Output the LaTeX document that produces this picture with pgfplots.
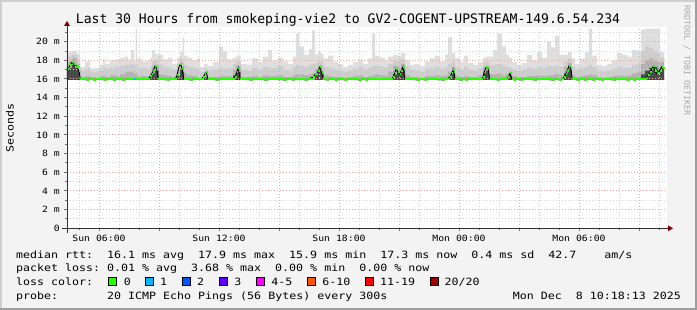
\documentclass[border=0pt]{standalone}
\usepackage{pgfplots}
\pgfplotsset{compat=1.18}
\usepackage{pgfplotstable}
\usepackage{fontspec}
\setmainfont{DejaVu Sans Mono}
\newfontfamily\lgfont[FakeStretch=1.163]{DejaVu Sans Mono}
\newfontfamily\axfont[FakeStretch=1.14]{DejaVu Sans Mono}
\newfontfamily\ttlfont{DejaVu Sans Mono}
\definecolor{bg}{HTML}{F3F3F3}
\definecolor{shadea}{HTML}{CFCFCF}
\definecolor{shadeb}{HTML}{9E9E9E}
\definecolor{mgrid}{HTML}{F0A4A4}
\definecolor{mingrid}{HTML}{D4D4D4}
\definecolor{arrowred}{HTML}{7F0000}
\definecolor{axiscol}{HTML}{303030}
\definecolor{smokeL}{HTML}{DEDEDE}
\definecolor{smokeM}{HTML}{CDCDCD}
\definecolor{smokeD}{HTML}{B2B2B2}
\definecolor{smokeK}{HTML}{4A4A4A}
\definecolor{wmark}{HTML}{A8A8A8}
\definecolor{loss0}{HTML}{26FF00}
\definecolor{loss1}{HTML}{00B8FF}
\definecolor{loss2}{HTML}{0059FF}
\definecolor{loss3}{HTML}{5E00FF}
\definecolor{loss4}{HTML}{FF00FF}
\definecolor{loss6}{HTML}{FF5500}
\definecolor{loss11}{HTML}{FF0000}
\definecolor{loss20}{HTML}{A10000}

% smoke: hours since Sun 00:00, top of each grey band (ms)
\pgfplotstableread{
h L M D K
4.40 15.9 15.9 15.9 15.9
4.40 18.9 18.4 17.9 17.2
4.65 19.0 18.6 18.2 17.5
4.90 18.7 18.1 17.6 17.0
5.05 17.3 16.9 16.2 15.9
5.30 17.9 17.0 16.3 15.9
5.45 17.9 17.2 16.3 15.9
5.55 17.1 16.8 16.2 15.9
5.80 17.2 16.7 16.1 15.9
6.05 17.5 17.0 16.3 15.9
6.20 18.1 17.3 16.4 15.9
6.30 17.6 17.1 16.2 15.9
6.55 18.0 17.2 16.4 15.9
6.80 18.1 17.3 16.3 15.9
7.05 18.3 17.4 16.5 15.9
7.30 18.4 17.5 16.7 15.9
7.45 18.1 17.5 16.8 15.9
7.60 19.1 17.6 16.7 15.9
7.75 18.0 17.4 16.5 15.9
7.825 21.4 17.6 16.6 15.9
7.90 18.2 17.2 16.3 15.9
8.15 17.9 17.2 16.3 15.9
8.40 18.0 17.0 16.2 15.9
8.55 18.3 17.4 16.8 16.2
8.65 19.1 17.9 17.3 16.6
8.80 18.7 18.0 17.5 16.9
8.975 18.6 17.5 16.5 15.9
9.20 18.1 17.3 16.4 15.9
9.45 18.3 17.2 16.3 15.9
9.65 17.6 17.0 16.2 15.9
9.90 18.3 17.6 17.0 16.3
10.05 18.9 18.2 17.7 17.0
10.175 20.4 18.0 17.4 16.8
10.25 18.5 17.5 16.6 15.9
10.40 18.3 17.3 16.4 15.9
10.65 18.0 17.2 16.3 15.9
10.90 18.2 17.0 16.2 15.9
11.05 17.3 16.8 16.1 15.9
11.25 17.6 17.1 16.7 16.2
11.425 17.4 16.9 16.2 15.9
11.70 17.8 17.0 16.2 15.9
12.00 19.5 17.2 16.3 15.9
12.20 19.0 17.1 16.3 15.9
12.40 18.1 17.2 16.3 15.9
12.70 18.3 17.6 17.0 16.4
12.85 18.5 17.9 17.4 16.8
13.075 17.6 17.0 16.2 15.9
13.40 17.5 16.9 16.2 15.9
13.65 18.2 17.2 16.3 15.9
13.95 17.8 17.0 16.2 15.9
14.20 18.4 17.3 16.4 15.9
14.45 19.1 17.2 16.3 15.9
14.65 18.0 17.2 16.3 15.9
14.95 18.3 17.4 16.4 15.9
15.20 17.9 17.0 16.2 15.9
15.45 17.6 16.9 16.2 15.9
15.70 18.4 17.3 16.4 15.9
15.85 20.9 17.5 16.5 15.9
16.00 19.5 17.4 16.5 15.9
16.25 18.6 17.3 16.4 15.9
16.50 19.2 17.5 16.5 15.9
16.65 21.2 17.6 16.6 15.9
16.80 18.6 17.7 17.1 16.4
16.95 18.9 18.0 17.5 16.9
17.10 18.7 17.8 17.2 16.6
17.225 18.2 17.3 16.4 15.9
17.45 18.5 17.2 16.3 15.9
17.70 17.9 17.0 16.2 15.9
17.95 17.6 16.9 16.2 15.9
18.20 17.3 16.8 16.1 15.9
18.45 17.5 16.9 16.2 15.9
18.70 17.8 17.1 16.3 15.9
18.95 18.1 17.3 16.4 15.9
19.20 17.6 17.0 16.2 15.9
19.45 18.2 17.2 16.3 15.9
19.65 20.9 17.4 16.4 15.9
19.80 18.5 17.4 16.5 15.9
20.05 18.3 17.3 16.4 15.9
20.30 18.0 17.2 16.3 15.9
20.45 18.4 17.6 16.8 15.9
20.70 18.6 18.0 17.4 16.5
20.90 18.5 17.9 17.3 16.8
21.10 18.8 18.1 17.6 17.0
21.30 18.0 17.3 16.4 15.9
21.55 17.5 17.0 16.2 15.9
21.80 17.6 16.9 16.2 15.9
22.05 17.4 16.8 16.1 15.9
22.30 17.9 17.1 16.3 15.9
22.55 18.2 17.2 16.3 15.9
22.80 18.5 17.3 16.4 15.9
23.05 17.9 17.1 16.3 15.9
23.30 18.6 17.3 16.4 15.9
23.45 20.5 17.6 16.8 16.2
23.65 18.8 17.8 17.3 16.6
23.80 18.2 17.2 16.3 15.9
24.05 17.8 17.0 16.2 15.9
24.25 18.5 17.3 16.3 15.9
24.45 17.7 17.0 16.2 15.9
24.70 17.5 16.9 16.2 15.9
24.95 17.8 17.2 16.4 15.9
25.20 18.3 17.8 17.3 16.6
25.35 18.4 17.9 17.4 16.9
25.50 18.4 17.4 16.5 15.9
25.70 19.1 17.5 16.5 15.9
25.90 20.9 17.6 16.6 15.9
26.15 19.5 17.4 16.4 15.9
26.35 18.6 17.3 16.6 16.0
26.50 18.3 17.2 16.8 16.3
26.65 17.8 17.0 16.3 15.9
26.90 17.5 16.9 16.2 15.9
27.15 17.7 17.0 16.2 15.9
27.40 18.6 17.2 16.3 15.9
27.65 18.0 17.1 16.3 15.9
27.90 18.9 17.3 16.4 15.9
28.15 18.3 17.2 16.3 15.9
28.40 20.0 17.4 16.4 15.9
28.60 19.4 17.3 16.4 15.9
28.80 20.6 17.4 16.5 15.9
29.00 18.6 17.3 16.4 15.9
29.25 18.6 17.9 17.3 16.6
29.45 18.9 18.2 17.7 17.1
29.625 18.2 17.3 16.4 15.9
29.80 17.6 17.0 16.2 15.9
30.05 18.2 17.2 16.3 15.9
30.30 18.9 17.3 16.4 15.9
30.50 21.4 17.5 16.5 15.9
30.65 18.5 17.3 16.4 15.9
30.90 17.5 16.9 16.2 15.9
31.15 17.4 16.8 16.1 15.9
31.40 17.6 16.9 16.2 15.9
31.65 18.0 17.1 16.3 15.9
31.90 18.8 17.3 16.4 15.9
32.15 18.6 17.2 16.3 15.9
32.40 18.4 17.2 16.4 15.9
32.65 19.1 17.5 16.6 15.9
32.90 19.0 17.6 16.7 15.9
33.10 21.3 19.0 17.6 16.5
33.30 21.4 19.5 18.0 16.9
33.50 21.4 19.3 18.2 17.2
33.70 21.4 19.0 18.0 17.3
33.90 21.4 18.8 17.8 17.1
34.05 18.9 18.3 17.8 17.2
34.25 18.9 18.3 17.8 17.2
34.25 15.9 15.9 15.9 15.9
}\smoke

% median rtt (ms)
\pgfplotstableread{
h rtt
4.40 17.1
4.485 17.2
4.565 17.5
4.65 17.8
4.735 17.6
4.815 17.3
4.90 17.3
4.985 16.9
5.065 16.0
5.40 15.9
5.50 16.0
5.75 15.9
5.85 16.0
6.30 15.9
6.40 16.0
6.75 15.9
6.85 16.0
7.20 15.9
7.30 16.0
8.465 16.0
8.55 16.3
8.635 16.5
8.715 16.9
8.80 17.4
8.885 17.1
8.965 16.0
9.45 15.9
9.55 16.0
9.815 16.0
9.90 16.4
9.985 17.2
10.065 17.6
10.15 17.15
10.235 16.0
10.60 15.9
10.70 16.0
11.115 16.0
11.20 16.2
11.285 16.5
11.365 16.7
11.45 16.0
11.90 15.9
12.00 16.0
12.715 16.0
12.80 16.2
12.885 16.7
12.965 17.2
13.05 16.0
13.60 15.9
13.70 16.0
14.35 15.9
14.45 16.0
15.30 15.9
15.40 16.0
15.70 15.9
15.80 16.0
16.35 15.9
16.45 16.0
16.715 16.2
16.80 16.5
16.885 16.5
16.965 16.9
17.05 17.3
17.135 16.6
17.215 16.0
17.40 15.9
17.50 16.0
17.85 15.9
17.95 16.0
18.30 15.9
18.40 16.0
19.05 15.9
19.15 16.0
19.35 15.9
19.45 16.0
20.615 16.0
20.70 16.2
20.785 16.6
20.865 17.1
20.95 16.7
21.035 16.5
21.115 16.9
21.20 17.3
21.285 16.0
21.95 15.9
22.05 16.0
22.30 15.9
22.40 16.0
23.20 15.9
23.30 16.0
23.465 16.0
23.55 16.2
23.635 16.6
23.715 17.0
23.80 16.0
24.10 15.9
24.20 16.0
24.35 15.9
24.45 16.0
25.115 16.0
25.20 16.2
25.285 16.9
25.365 17.3
25.45 17.2
25.535 16.0
25.95 15.9
26.05 16.0
26.38 16.0
26.465 16.2
26.55 16.6
26.635 16.0
26.75 15.9
26.85 16.0
27.10 15.9
27.20 16.0
27.80 15.9
27.90 16.0
28.70 15.9
28.80 16.0
29.05 15.9
29.15 16.0
29.25 16.2
29.335 16.5
29.415 16.9
29.50 17.4
29.585 17.2
29.665 16.0
29.90 15.9
30.00 16.0
30.30 15.9
30.40 16.0
30.70 15.9
30.80 16.0
31.15 15.9
31.25 16.0
31.75 15.9
31.85 16.0
32.45 15.9
32.55 16.0
32.75 15.9
32.85 16.0
33.30 16.0
33.385 16.1
33.465 16.4
33.55 16.7
33.635 17.1
33.715 17.35
33.80 16.9
33.885 16.5
33.965 16.6
34.05 16.9
34.135 17.3
34.215 17.2
34.30 17.2
}\median

\begin{document}
\begin{tikzpicture}
\useasboundingbox (0,0) rectangle (697pt,-310pt);
\fill[bg] (0,0) rectangle (697pt,-310pt);
\fill[shadea] (0,0) rectangle (697pt,-2pt);
\fill[shadea] (0,0) rectangle (2pt,-310pt);
\fill[shadeb] (0,-308pt) rectangle (697pt,-310pt);
\fill[shadeb] (695pt,0) rectangle (697pt,-310pt);

\begin{axis}[
  at={(67pt,-228.3pt)}, anchor=south west,
  width=600pt, height=201pt, scale only axis,
  xmin=4.4, xmax=34.4, ymin=0, ymax=21.54,
  axis background/.style={fill=white},
  axis line style={draw=none},
  axis on top,
  xtick={6,9,...,33},
  xticklabels={Sun 06:00,,Sun 12:00,,Sun 18:00,,Mon 00:00,,Mon 06:00,},
  minor xtick={5,7,8,10,11,13,14,16,17,19,20,22,23,25,26,28,29,31,32,34},
  ytick={0,2,...,20},
  yticklabels={0,2 m,4 m,6 m,8 m,10 m,12 m,14 m,16 m,18 m,20 m},
  minor ytick={1,3,...,21},
  grid=both,
  major grid style={mgrid, line width=1pt, dash pattern=on 1pt off 2pt},
  minor grid style={mingrid, line width=1pt, dash pattern=on 1pt off 2pt},
  tick pos=left, tick align=outside,
  major tick length=3pt, minor tick length=2pt,
  tick style={black!55, line width=1pt},
  ticklabel style={inner sep=0pt, font=\axfont\fontsize{8.6}{10}\selectfont},
  yticklabel style={anchor=east, xshift=-4pt},
  xticklabel style={anchor=north, yshift=-3.5pt},
]
\addplot[draw=none, fill=smokeL, const plot] table[x=h, y=L] {\smoke};
\addplot[draw=none, fill=smokeM, const plot] table[x=h, y=M] {\smoke};
\addplot[draw=none, fill=smokeD, const plot] table[x=h, y=D] {\smoke};
\addplot[draw=none, fill=smokeK, const plot] table[x=h, y=K] {\smoke};
\end{axis}

\begin{axis}[
  at={(67pt,-228.3pt)}, anchor=south west,
  width=600pt, height=201pt, scale only axis,
  xmin=4.4, xmax=34.4, ymin=0, ymax=21.54,
  hide axis,
]
\addplot[black, line width=0.9pt] table[x=h, y=rtt] {\median};
\addplot[loss0, line width=2pt, jump mark left] table[x=h, y=rtt] {\median};
\addplot[loss1, line width=2pt] coordinates {(7.75,16.0) (7.85,16.0)};
\end{axis}

\begin{scope}[x=1pt, y=-1pt]
% axes with arrows
\draw[axiscol, line width=1pt] (62,228.3) -- (668,228.3);
\fill[arrowred] (668,225.3) -- (673,228.3) -- (668,231.3) -- cycle;
\draw[axiscol, line width=1pt] (67,233) -- (67,26);
\fill[arrowred] (64,26) -- (67,21) -- (70,26) -- cycle;

% title
\node[anchor=base, inner sep=0pt, font=\ttlfont\fontsize{13.1}{15}\selectfont] at (348,24)
  {Last 30 Hours from smokeping-vie2 to GV2-COGENT-UPSTREAM-149.6.54.234};
% y label
\node[rotate=90, inner sep=0pt, font=\lgfont\fontsize{10}{12}\selectfont] at (10,127.7) {Seconds};
% watermark
\node[rotate=-90, anchor=west, inner sep=0pt, text=wmark, font=\ttlfont\fontsize{8.3}{10}\selectfont] at (687,5) {RRDTOOL / TOBI OETIKER};

% legend
\begin{scope}[every node/.style={anchor=base west, inner sep=0pt, font=\lgfont\fontsize{10}{12}\selectfont}]
\node at (16,258.3) {median rtt:~~16.1 ms avg~~17.9 ms max~~15.9 ms min~~17.3 ms now~~0.4 ms sd~~42.7~~~~am/s};
\node at (16,271.7) {packet loss:~0.01 \% avg~~3.68 \% max~~0.00 \% min~~0.00 \% now};
\node at (16,285.7) {loss color:};
\node at (16,299.3) {probe:~~~~~~~20 ICMP Echo Pings (56 Bytes) every 300s};
\node[anchor=base east] at (681,299.3) {Mon Dec~~8 10:18:13 2025};
\node at (123.6,285.7) {0};
\node at (160,285.7) {1};
\node at (196.9,285.7) {2};
\node at (234.2,285.7) {3};
\node at (271.1,285.7) {4-5};
\node at (322.2,285.7) {6-10};
\node at (380,285.7) {11-19};
\node at (444.4,285.7) {20/20};
\end{scope}
\draw[black, line width=0.8pt, fill=loss0] (108,277.7) rectangle (116,285.7);
\draw[black, line width=0.8pt, fill=loss1] (145.3,277.7) rectangle (153.3,285.7);
\draw[black, line width=0.8pt, fill=loss2] (182.2,277.7) rectangle (190.2,285.7);
\draw[black, line width=0.8pt, fill=loss3] (219.6,277.7) rectangle (227.6,285.7);
\draw[black, line width=0.8pt, fill=loss4] (256.4,277.7) rectangle (264.4,285.7);
\draw[black, line width=0.8pt, fill=loss6] (307.6,277.7) rectangle (315.6,285.7);
\draw[black, line width=0.8pt, fill=loss11] (365.8,277.7) rectangle (373.8,285.7);
\draw[black, line width=0.8pt, fill=loss20] (430.2,277.7) rectangle (438.2,285.7);
\end{scope}
\end{tikzpicture}
\end{document}
